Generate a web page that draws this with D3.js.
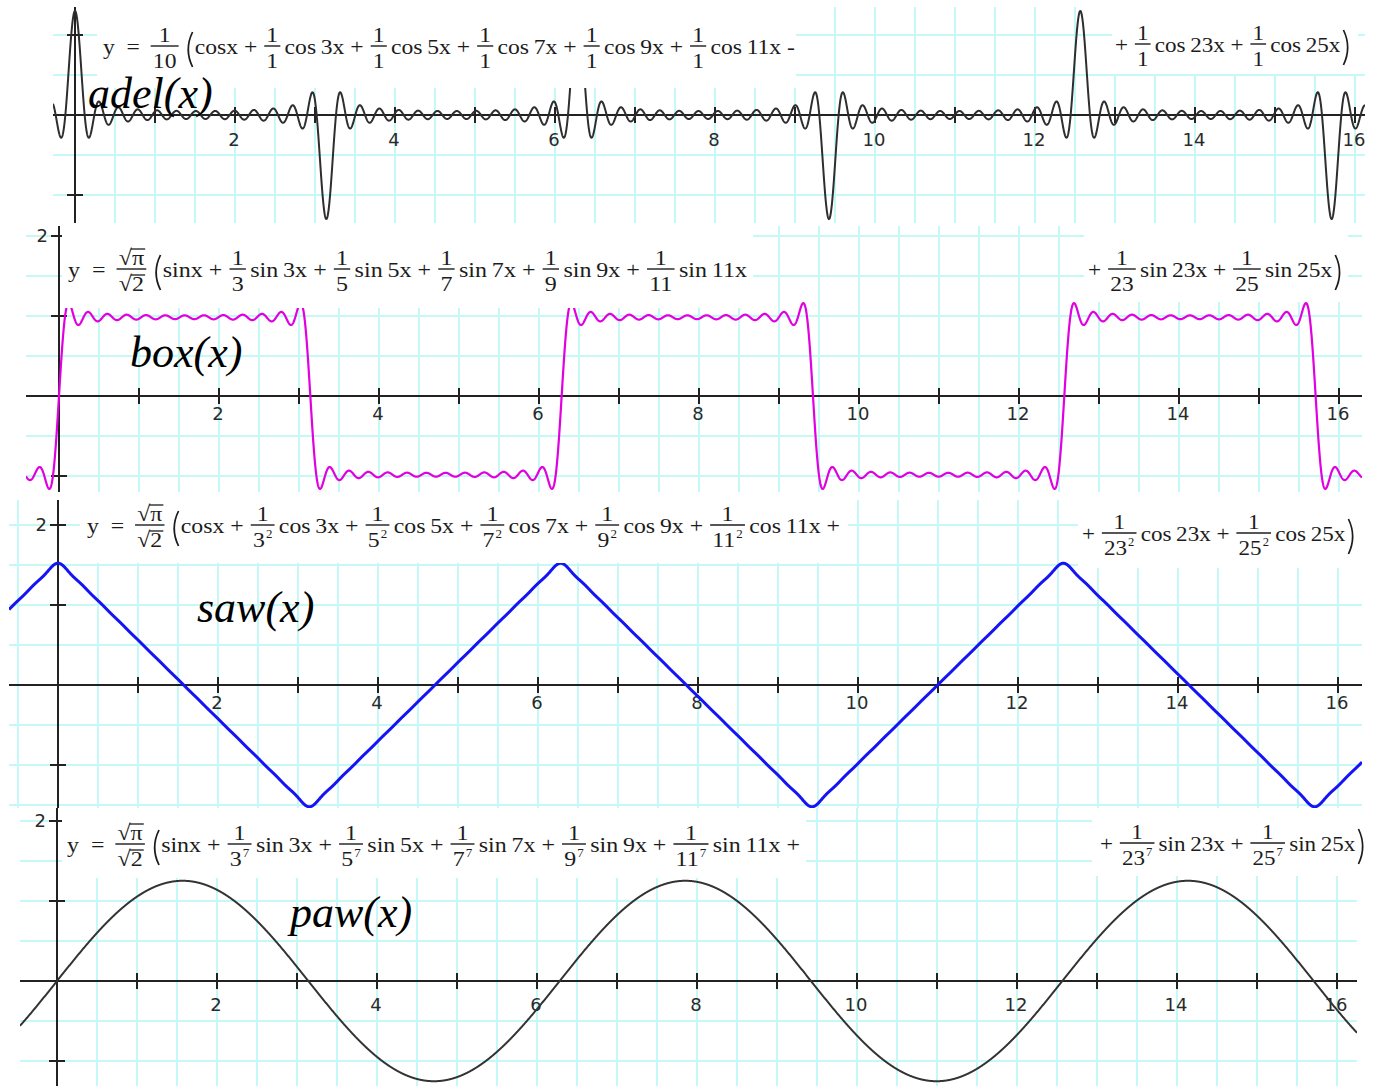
<!DOCTYPE html>
<html>
<head>
<meta charset="utf-8">
<script src="https://cdn.jsdelivr.net/npm/d3@7"></script>
<style>
  html, body { margin: 0; padding: 0; background: #fff; }
  svg { display: block; }
  text { white-space: pre; }
</style>
</head>
<body>
<svg id="chart" width="1380" height="1086"></svg>
<script>
// ---- Series definitions ----
// odd harmonics summed in every series
const harmonics = [1, 3, 5, 7, 9, 11, 13, 15, 17, 19, 21, 23, 25];
// harmonics written out in the left and right part of each formula
const leftTerms = [1, 3, 5, 7, 9, 11];
const rightTerms = [23, 25];
// one entry per panel
const seriesNames = ["adel(x)", "box(x)", "saw(x)", "paw(x)"];
const seriesWave = ["cos", "sin", "cos", "sin"];
const seriesDecay = [0, 1, 2, 7];          // weight of harmonic n is 1 / n^decay
const seriesFactor = [1 / 10, Math.sqrt(Math.PI) / Math.sqrt(2), Math.sqrt(Math.PI) / Math.sqrt(2), Math.sqrt(Math.PI) / Math.sqrt(2)];
const seriesLeftTail = [" -", "", " +", " +"];
// axis labels
const xTickLabels = [2, 4, 6, 8, 10, 12, 14, 16];
const yTickLabels = [2];

// ---- Layout ----
const UNIT = 80;
const panels = [
  { left: 53, right: 1365, top: 7,   bottom: 223,  x0: 75, y0: 115, xLabelDy: 31,
    color: "#2e2e2e", width: 2,
    label: { x: 88, y: 108 },
    fLeft: { x1: 103, x2: 795, base: 54 }, fRight: { x1: 1115, x2: 1355, base: 52 },
    boxL: [97, 7, 796, 88], boxR: [1112, 7, 1358, 74] },
  { left: 26, right: 1362, top: 226, bottom: 492,  x0: 59, y0: 396, xLabelDy: 24,
    color: "#e000e0", width: 2.2,
    label: { x: 130, y: 367 },
    fLeft: { x1: 68, x2: 747, base: 277 }, fRight: { x1: 1088, x2: 1347, base: 277 },
    boxL: [62, 226, 753, 308], boxR: [1084, 226, 1348, 302] },
  { left: 9,  right: 1362, top: 500, bottom: 808,  x0: 58, y0: 685, xLabelDy: 24,
    color: "#1414f5", width: 3,
    label: { x: 197, y: 622 },
    fLeft: { x1: 87, x2: 840, base: 533 }, fRight: { x1: 1082, x2: 1360, base: 541 },
    boxL: [80, 500, 848, 563], boxR: [1078, 500, 1362, 568] },
  { left: 20, right: 1357, top: 808, bottom: 1086, x0: 57, y0: 981, xLabelDy: 30,
    color: "#333333", width: 2,
    label: { x: 290, y: 927 },
    fLeft: { x1: 67, x2: 800, base: 852 }, fRight: { x1: 1100, x2: 1370, base: 851 },
    boxL: [62, 808, 806, 878], boxR: [1092, 808, 1376, 876] }
];

const GRID = "#c6f8f8";
const INK = "#1c1c1c";
const SERIF = "'Liberation Serif', 'Times New Roman', serif";
const SANS = "'DejaVu Sans', Verdana, sans-serif";

const svg = d3.select("#chart");
const defs = svg.append("defs");

// ---- Formula typesetting ----
function typeset(parent, tokens, x1, x2, baseline) {
  const fs = 22;
  const inner = parent.append("g").attr("fill", INK).attr("font-family", SERIF);
  let cx = 0;
  const put = (s, x, y, size) => inner.append("text")
    .attr("xml:space", "preserve")
    .attr("x", x).attr("y", y).attr("font-size", size).text(s);
  const barY = -8;

  tokens.forEach(tok => {
    if (tok.t === "txt") {
      const el = put(tok.s, cx, 0, fs);
      cx += el.node().getComputedTextLength();
    } else if (tok.t === "gap") {
      cx += tok.w;
    } else if (tok.t === "frac") {
      const num = put(tok.num, 0, barY - 4, fs);
      const den = put(tok.den, 0, barY + 22, fs);
      let sup = null;
      if (tok.sup) sup = put(tok.sup, 0, barY + 13, 12);
      const nw = num.node().getComputedTextLength();
      const dw0 = den.node().getComputedTextLength();
      const sw = sup ? sup.node().getComputedTextLength() + 1 : 0;
      const dw = dw0 + sw;
      const w = Math.max(nw, dw) + 4;
      num.attr("x", cx + (w - nw) / 2);
      den.attr("x", cx + (w - dw) / 2);
      if (sup) sup.attr("x", cx + (w - dw) / 2 + dw0 + 1);
      inner.append("line").attr("x1", cx).attr("x2", cx + w)
        .attr("y1", barY).attr("y2", barY).attr("stroke", INK).attr("stroke-width", 1.4);
      cx += w;
    } else if (tok.t === "rootfrac") {
      // √π over √2
      const parts = [[tok.num, barY - 4], [tok.den, barY + 22]];
      const widths = [];
      const els = parts.map(([s, yy]) => {
        const r = put("√", 0, yy, fs);
        const v = put(s, 0, yy, fs);
        const rw = r.node().getComputedTextLength();
        const vw = v.node().getComputedTextLength();
        widths.push(rw + vw);
        return { r, v, rw, vw, yy };
      });
      const w = Math.max(...widths) + 4;
      els.forEach((e, k) => {
        const sx = cx + (w - widths[k]) / 2;
        e.r.attr("x", sx);
        e.v.attr("x", sx + e.rw);
        inner.append("line").attr("x1", sx + e.rw - 1).attr("x2", sx + e.rw + e.vw + 1)
          .attr("y1", e.yy - 16).attr("y2", e.yy - 16).attr("stroke", INK).attr("stroke-width", 1.3);
      });
      inner.append("line").attr("x1", cx).attr("x2", cx + w)
        .attr("y1", barY).attr("y2", barY).attr("stroke", INK).attr("stroke-width", 1.4);
      cx += w;
    } else if (tok.t === "paren") {
      const w = 9, top = -22, bot = 13;
      const path = d3.path();
      if (tok.open) {
        path.moveTo(cx + w, top);
        path.quadraticCurveTo(cx + 1, (top + bot) / 2, cx + w, bot);
      } else {
        path.moveTo(cx, top);
        path.quadraticCurveTo(cx + w - 1, (top + bot) / 2, cx, bot);
      }
      inner.append("path").attr("d", path.toString()).attr("fill", "none")
        .attr("stroke", INK).attr("stroke-width", 1.6);
      cx += w + 2;
    }
  });
  const sx = (x2 - x1) / cx;
  inner.attr("transform", `translate(${x1},${baseline}) scale(${sx},1)`);
}

function termText(wave, n) {
  return n === 1 ? wave + "x" : wave + "\u2009" + n + "x";
}
function coefToken(i, n) {
  const d = seriesDecay[i];
  if (d === 0) return { t: "frac", num: "1", den: "1" };
  if (d === 1) return { t: "frac", num: "1", den: String(n) };
  return { t: "frac", num: "1", den: String(n), sup: String(d) };
}
function leftTokens(i) {
  const wave = seriesWave[i];
  const toks = [{ t: "txt", s: "y  =" }, { t: "gap", w: 10 }];
  if (i === 0) toks.push({ t: "frac", num: "1", den: "10" });
  else toks.push({ t: "rootfrac", num: "π", den: "2" });
  toks.push({ t: "gap", w: 4 }, { t: "paren", open: true });
  leftTerms.forEach((n, k) => {
    if (k > 0) {
      toks.push({ t: "txt", s: " + " }, { t: "gap", w: 1 });
      toks.push(coefToken(i, n), { t: "gap", w: 4 });
    }
    toks.push({ t: "txt", s: termText(wave, n) });
  });
  if (seriesLeftTail[i]) toks.push({ t: "txt", s: seriesLeftTail[i] });
  return toks;
}
function rightTokens(i) {
  const wave = seriesWave[i];
  const toks = [{ t: "txt", s: "+ " }, { t: "gap", w: 1 }];
  rightTerms.forEach((n, k) => {
    if (k > 0) toks.push({ t: "txt", s: " + " }, { t: "gap", w: 1 });
    toks.push(coefToken(i, n), { t: "gap", w: 4 });
    toks.push({ t: "txt", s: termText(wave, n) });
  });
  toks.push({ t: "gap", w: 3 }, { t: "paren", open: false });
  return toks;
}

// ---- Panels ----
panels.forEach((p, i) => {
  const g = svg.append("g");
  const x = d3.scaleLinear()
    .domain([(p.left - p.x0) / UNIT, (p.right - p.x0) / UNIT])
    .range([p.left, p.right]);
  const y = d3.scaleLinear()
    .domain([(p.y0 - p.bottom) / UNIT, (p.y0 - p.top) / UNIT])
    .range([p.bottom, p.top]);
  const [xa, xb] = x.domain();
  const [ya, yb] = y.domain();

  const clipId = "clip" + i;
  defs.append("clipPath").attr("id", clipId).append("rect")
    .attr("x", p.left).attr("y", p.top)
    .attr("width", p.right - p.left).attr("height", p.bottom - p.top);

  g.append("rect").attr("x", p.left).attr("y", p.top)
    .attr("width", p.right - p.left).attr("height", p.bottom - p.top).attr("fill", "#fff");

  // grid every half unit
  const grid = g.append("g").attr("stroke", GRID).attr("stroke-width", 1.8)
    .attr("shape-rendering", "crispEdges");
  d3.range(Math.ceil(xa * 2), Math.floor(xb * 2) + 1).map(k => k / 2).forEach(v => {
    grid.append("line").attr("x1", x(v)).attr("x2", x(v)).attr("y1", p.top).attr("y2", p.bottom);
  });
  d3.range(Math.ceil(ya * 2), Math.floor(yb * 2) + 1).map(k => k / 2).forEach(v => {
    grid.append("line").attr("y1", y(v)).attr("y2", y(v)).attr("x1", p.left).attr("x2", p.right);
  });

  // axes
  const ax = g.append("g").attr("stroke", "#222").attr("stroke-width", 2)
    .attr("shape-rendering", "crispEdges");
  ax.append("line").attr("x1", p.left).attr("x2", p.right).attr("y1", y(0)).attr("y2", y(0));
  ax.append("line").attr("x1", x(0)).attr("x2", x(0)).attr("y1", p.top).attr("y2", p.bottom);
  d3.range(Math.ceil(xa), Math.floor(xb) + 1).filter(k => k !== 0).forEach(k => {
    ax.append("line").attr("x1", x(k)).attr("x2", x(k)).attr("y1", y(0) - 8).attr("y2", y(0) + 8);
  });
  [-2, -1, 1, 2].filter(k => k > ya && k < yb).forEach(k => {
    ax.append("line").attr("y1", y(k)).attr("y2", y(k)).attr("x1", x(0) - 8).attr("x2", x(0) + 8);
  });

  // tick labels
  const tl = g.append("g").attr("font-family", SANS).attr("font-size", 18).attr("fill", "#2a2a2a");
  xTickLabels.filter(v => v > xa && v < xb + 0.2).forEach(v => {
    tl.append("text").attr("x", x(v) - 1).attr("y", y(0) + p.xLabelDy)
      .attr("text-anchor", "middle").text(v);
  });
  yTickLabels.filter(v => v > ya && v < yb).forEach(v => {
    tl.append("text").attr("x", x(0) - 11).attr("y", y(v) + 6)
      .attr("text-anchor", "end").text(v);
  });

  // the series curve
  const wave = seriesWave[i] === "cos" ? Math.cos : Math.sin;
  const f = t => seriesFactor[i] * d3.sum(harmonics, n => Math.pow(n, -seriesDecay[i]) * wave(n * t));
  const samples = d3.range(xa, xb + 0.002, 1 / 400).map(t => [t, f(t)]);
  g.append("path")
    .attr("clip-path", `url(#${clipId})`)
    .attr("d", d3.line().x(d => x(d[0])).y(d => y(d[1]))(samples))
    .attr("fill", "none").attr("stroke", p.color).attr("stroke-width", p.width)
    .attr("stroke-linejoin", "round");

  // formula panels
  [p.boxL, p.boxR].forEach(b => {
    g.append("rect").attr("x", b[0]).attr("y", b[1])
      .attr("width", b[2] - b[0]).attr("height", b[3] - b[1]).attr("fill", "#fff");
  });
  typeset(g, leftTokens(i), p.fLeft.x1, p.fLeft.x2, p.fLeft.base);
  typeset(g, rightTokens(i), p.fRight.x1, p.fRight.x2, p.fRight.base);

  // series name
  g.append("text").attr("x", p.label.x).attr("y", p.label.y)
    .attr("font-family", SERIF).attr("font-style", "italic").attr("font-size", 44)
    .attr("fill", "#000").text(seriesNames[i]);
});
</script>
</body>
</html>
